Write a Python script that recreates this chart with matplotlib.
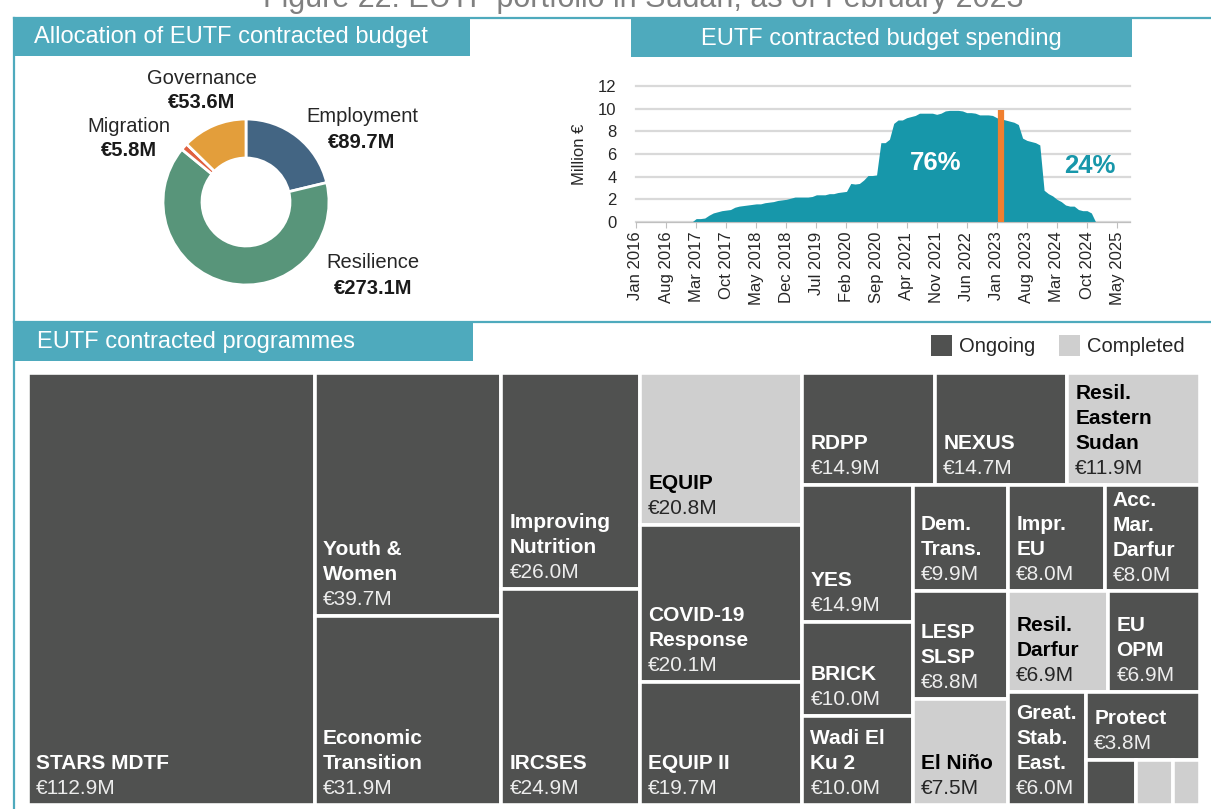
import matplotlib.pyplot as plt
from matplotlib.patches import Rectangle
from matplotlib.lines import Line2D

plt.rcParams['font.family'] = ['Liberation Sans', 'DejaVu Sans']

W, H = 1211, 809
TEAL = '#4EAABD'

title = "Figure 22: EUTF portfolio in Sudan, as of February 2023"

# donut: allocation by sector
sectors = ["Employment", "Resilience", "Migration", "Governance"]
sector_budget = [89.7, 273.1, 5.8, 53.6]
sector_colors = ["#436583", "#58957A", "#E0603F", "#E39E3B"]

# spending curve (million € per month), starting Feb 2017
spend_start = (2017, 2)
monthly_spend = [
    0.0, 0.3, 0.3, 0.35, 0.6, 0.8, 0.9, 1.0, 1.05, 1.1, 1.3,
    1.4, 1.45, 1.5, 1.55, 1.6, 1.6, 1.7, 1.75, 1.8, 1.9, 1.95, 2.0,
    2.1, 2.2, 2.2, 2.2, 2.2, 2.25, 2.4, 2.4, 2.4, 2.5, 2.5, 2.6,
    2.65, 2.7, 3.4, 3.35, 3.4, 3.7, 4.1, 4.1, 4.15, 7.0, 7.0, 7.3,
    8.7, 9.0, 9.0, 9.2, 9.3, 9.4, 9.6, 9.6, 9.6, 9.6, 9.5, 9.6,
    9.8, 9.85, 9.85, 9.85, 9.8, 9.65, 9.65, 9.6, 9.45, 9.45, 9.45, 9.4,
    9.2, 9.1, 9.0, 8.9, 8.8, 8.6, 7.4, 7.2, 7.1, 7.0, 6.8, 2.8,
    2.5, 2.3, 2.0, 1.8, 1.5, 1.4, 1.4, 1.1, 1.0, 1.0, 0.8, 0.0,
]
month_ticks = ["Jan 2016", "Aug 2016", "Mar 2017", "Oct 2017", "May 2018",
               "Dec 2018", "Jul 2019", "Feb 2020", "Sep 2020", "Apr 2021",
               "Nov 2021", "Jun 2022", "Jan 2023", "Aug 2023", "Mar 2024",
               "Oct 2024", "May 2025"]
report_month = (2023, 2)
report_marker_top = 9.9
spent_share = 76
remaining_share = 24

# treemap: programmes
programmes = ["STARS MDTF", "Youth &\nWomen", "Economic\nTransition",
              "Improving\nNutrition", "IRCSES", "EQUIP", "COVID-19\nResponse",
              "EQUIP II", "RDPP", "NEXUS", "Resil.\nEastern\nSudan", "YES",
              "BRICK", "Wadi El\nKu 2", "Dem.\nTrans.", "Impr.\nEU",
              "Acc.\nMar.\nDarfur", "LESP\nSLSP", "El Niño", "Resil.\nDarfur",
              "EU\nOPM", "Great.\nStab.\nEast.", "Protect", "", "", ""]
programme_budget = [112.9, 39.7, 31.9, 26.0, 24.9, 20.8, 20.1, 19.7, 14.9,
                    14.7, 11.9, 14.9, 10.0, 10.0, 9.9, 8.0, 8.0, 8.8, 7.5,
                    6.9, 6.9, 6.0, 3.8, None, None, None]
# relative tile areas
tile_area = [111.3, 40.8, 31.6, 27.0, 26.9, 22.2, 22.8, 17.9, 13.4, 13.3,
             13.4, 13.6, 9.3, 8.8, 9.1, 9.2, 9.1, 9.2, 9.1, 9.1, 8.3, 7.9,
             6.9, 2.0, 1.5, 1.1]
completed = [0, 0, 0, 0, 0, 1, 0, 0, 0, 0, 1, 0, 0, 0, 0, 0, 0, 0, 1, 1,
             0, 0, 0, 0, 1, 1]
# nesting of the tiles, alternating column / row splits
tree = [0, [1, 2], [3, 4], [5, 6, 7],
        [[8, 9, 10],
         [[11, 12, 13],
          [[14, 15, 16],
           [[17, 18],
            [[19, 20],
             [21, [22, [23, 24, 25]]]]]]]]]


def fx(x):
    return x / W


def fy(y):
    return 1 - y / H


fig = plt.figure(figsize=(W / 100, H / 100), dpi=100)

# frame and headers
for xs, ys in [((14, W), (18, 18)), ((14, 14), (18, H)), ((14, W), (322, 322))]:
    fig.add_artist(Line2D([fx(v) for v in xs], [fy(v) for v in ys], color=TEAL, lw=1.6))
for x0, y0, x1, y1 in [(13, 18, 470, 56), (631, 18, 1132, 57), (13, 322, 473, 361)]:
    fig.add_artist(Rectangle((fx(x0), fy(y1)), fx(x1 - x0), (y1 - y0) / H,
                             transform=fig.transFigure, color=TEAL, lw=0))
fig.text(fx(34), fy(37), "Allocation of EUTF contracted budget", color='white',
         fontsize=17, va='center', ha='left')
fig.text(fx(881), fy(39), "EUTF contracted budget spending", color='white',
         fontsize=17, va='center', ha='center')
fig.text(fx(37), fy(342), "EUTF contracted programmes", color='white',
         fontsize=17, va='center', ha='left')
fig.text(fx(643), fy(7), title, color='#808080', fontsize=22, ha='center', va='baseline')

# donut
cx, cy, r = 246, 202, 83
half = 1.2 * r
ax1 = fig.add_axes([fx(cx - half), fy(cy + half), 2 * half / W, 2 * half / H])
ax1.pie(sector_budget, colors=sector_colors, startangle=90, counterclock=False,
        radius=1, wedgeprops=dict(width=0.47, edgecolor='white', linewidth=2))
ax1.set_xlim(-1.2, 1.2)
ax1.set_ylim(-1.2, 1.2)
ax1.set_aspect('equal')
ax1.axis('off')
label_pos = {"Employment": (362, 117), "Resilience": (373, 263),
             "Migration": (129, 126), "Governance": (202, 78)}
for name, val in zip(sectors, sector_budget):
    lx, ly = label_pos[name]
    fig.text(fx(lx), fy(ly), name, fontsize=14.5, color='#262626', ha='center', va='center')
    fig.text(fx(lx), fy(ly + 25), f"€{val:.1f}M", fontsize=14.5, color='#1a1a1a',
             fontweight='bold', ha='center', va='center')

# spending area chart
ax2 = fig.add_axes([fx(636), fy(222), (1130 - 636) / W, (222 - 86) / H])
first = (spend_start[0] - 2016) * 12 + spend_start[1] - 1
months = list(range(first, first + len(monthly_spend)))
ax2.fill_between(months, 0, monthly_spend, color='#1797AA', lw=0, zorder=2)
report_idx = (report_month[0] - 2016) * 12 + report_month[1] - 1
ax2.vlines(report_idx, 0, report_marker_top, color='#F07F2F', lw=4.5, zorder=3)
ax2.set_xlim(0, 115)
ax2.set_ylim(0, 12)
ax2.set_yticks(range(0, 13, 2))
ax2.set_xticks(range(0, 7 * len(month_ticks), 7))
ax2.set_xticklabels(month_ticks, rotation=90)
ax2.yaxis.grid(True, color='#D9D9D9', lw=1.6, zorder=0)
for gl in ax2.get_ygridlines():
    gl.set_clip_on(False)
ax2.set_axisbelow(True)
for s in ['top', 'right', 'left']:
    ax2.spines[s].set_visible(False)
ax2.spines['bottom'].set_color('#BFBFBF')
ax2.tick_params(axis='x', colors='#BFBFBF', length=4, labelcolor='#262626',
                labelsize=12, pad=3)
ax2.tick_params(axis='y', length=0, labelcolor='#262626', labelsize=12, pad=14)
ax2.set_ylabel("Million €", fontsize=12, color='#262626', labelpad=8)
ax2.text(69.8, 5.2, f"{spent_share}%", color='white', fontsize=18.5,
         fontweight='bold', ha='center', va='center', zorder=4)
ax2.text(105.7, 4.9, f"{remaining_share}%", color='#1797AA', fontsize=18.5,
         fontweight='bold', ha='center', va='center', zorder=4)

# legend
for x0, col, lab in [(931, '#505150', "Ongoing"), (1059, '#CFCFCF', "Completed")]:
    fig.add_artist(Rectangle((fx(x0), fy(356)), 21 / W, 21 / H,
                             transform=fig.transFigure, color=col, lw=0))
    fig.text(fx(x0 + 28), fy(346), lab, fontsize=14.5, color='#262626', va='center')

# treemap
tx0, ty0, tx1, ty1 = 28, 373, 1200, 805
ax3 = fig.add_axes([fx(tx0), fy(ty1), (tx1 - tx0) / W, (ty1 - ty0) / H])
ax3.set_xlim(0, 1)
ax3.set_ylim(1, 0)
ax3.axis('off')


def weight(node):
    if isinstance(node, int):
        return tile_area[node]
    return sum(weight(c) for c in node)


def split(node, x0, y0, x1, y1, horizontal, out):
    if isinstance(node, int):
        out[node] = (x0, y0, x1, y1)
        return
    total = weight(node)
    pos = x0 if horizontal else y0
    for child in node:
        span = ((x1 - x0) if horizontal else (y1 - y0)) * weight(child) / total
        if horizontal:
            split(child, pos, y0, pos + span, y1, False, out)
        else:
            split(child, x0, pos, x1, pos + span, True, out)
        pos += span


rects = {}
split(tree, 0, 0, 1, 1, True, rects)
box_h = ty1 - ty0
PT = 0.72
for i, (x0, y0, x1, y1) in rects.items():
    light = completed[i]
    ax3.add_patch(Rectangle((x0, y0), x1 - x0, y1 - y0,
                            facecolor='#CFCFCF' if light else '#505150',
                            edgecolor='white', lw=2.6))
    if programme_budget[i] is None:
        continue
    lines = programmes[i].split('\n') + [f"€{programme_budget[i]:.1f}M"]
    n = len(lines)
    h_px = (y1 - y0) * box_h
    pad = 11
    if pad + (n - 1) * 25 + 15 > h_px - 6:
        pad = h_px - 6 - (n - 1) * 25 - 15
    for k, line in enumerate(reversed(lines)):
        is_value = k == 0
        if light:
            col = '#262626' if is_value else 'black'
        else:
            col = '#EDEDED' if is_value else 'white'
        ax3.annotate(line, xy=(x0, y1), xytext=(8 * PT, (pad + k * 25) * PT),
                     textcoords='offset points', ha='left', va='baseline',
                     fontsize=15, color=col,
                     fontweight='normal' if is_value else 'bold')

fig.savefig('out.png', dpi=100)
